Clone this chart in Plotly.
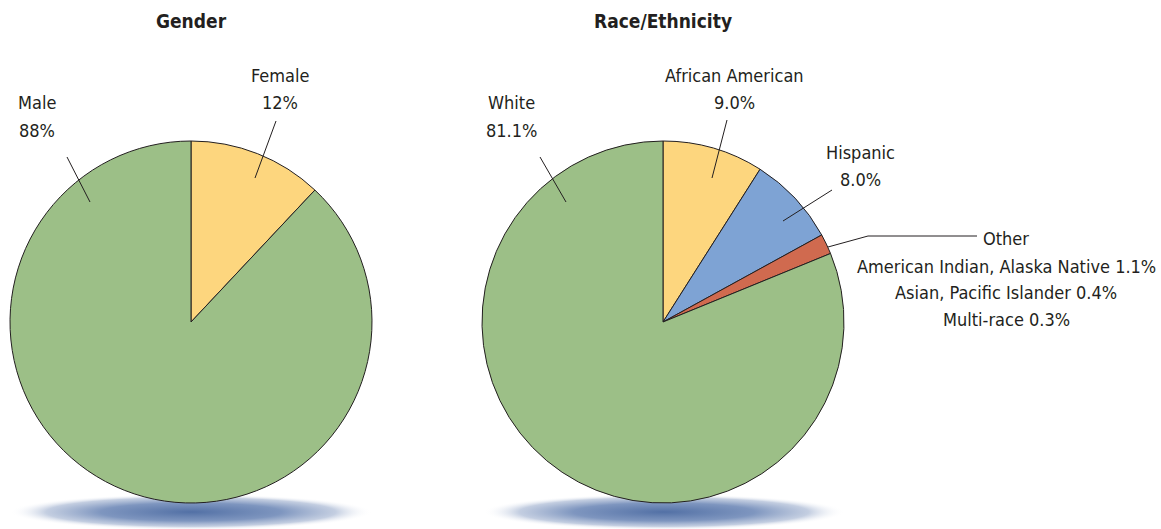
import numpy as np
import plotly.graph_objects as go

W, H = 1161, 529

gender_labels = ["Female", "Male"]
gender_values = [12, 88]
race_labels = ["African American", "Hispanic", "Other", "White"]
race_values = [9.0, 8.0, 1.8, 81.1]
other_detail = ["American Indian, Alaska Native 1.1%", "Asian, Pacific Islander 0.4%", "Multi-race 0.3%"]

colors_gender = ["#FDD67E", "#9CBF87"]
colors_race = ["#FDD67E", "#7EA3D4", "#D06A4F", "#9CBF87"]

FONT = "Liberation Sans Narrow, DejaVu Sans Condensed, Arial Narrow, sans-serif"


def px(x):
    return x / W


def py(y):
    return 1 - y / H


def dom(cx, cy, r):
    return dict(x=[px(cx - r), px(cx + r)], y=[py(cy + r), py(cy - r)])


fig = go.Figure()

# shadows under the pies (radial gradient ellipses in pixel coordinates)
t = np.linspace(0, 2 * np.pi, 161)
for cx in (191, 664):
    fig.add_trace(go.Scatter(x=cx + 181 * np.cos(t), y=512 + 18 * np.sin(t), mode="lines",
                             line=dict(width=0), fill="toself", hoverinfo="skip", showlegend=False,
                             fillgradient=dict(type="radial",
                                               colorscale=[[0, "rgba(82,112,165,1)"],
                                                           [0.5, "rgba(112,138,184,0.9)"],
                                                           [0.8, "rgba(170,185,212,0.7)"],
                                                           [1, "rgba(255,255,255,0)"]])))

fig.add_trace(go.Pie(labels=gender_labels, values=gender_values, sort=False, direction="clockwise",
                     rotation=0, textinfo="none", showlegend=False,
                     marker=dict(colors=colors_gender, line=dict(color="#231F20", width=1)),
                     domain=dom(191, 322, 181)))
fig.add_trace(go.Pie(labels=race_labels, values=race_values, sort=False, direction="clockwise",
                     rotation=0, textinfo="none", showlegend=False,
                     marker=dict(colors=colors_race, line=dict(color="#231F20", width=1)),
                     domain=dom(663, 322, 181)))

shapes = []
leaders = [
    ((67, 157), (90, 202)),
    ((276, 121), (255, 178)),
    ((540, 157), (566, 202)),
    ((727, 120), (712, 178)),
    ((832, 190), (783, 221)),
    ((828, 247), (868, 236)),
    ((868, 236), (977, 236)),
]
for (x0, y0), (x1, y1) in leaders:
    shapes.append(dict(type="line", xref="paper", yref="paper", x0=px(x0), y0=py(y0), x1=px(x1), y1=py(y1),
                       line=dict(color="#231F20", width=1)))

ann = []


def text(x, y, t, size=18, bold=False, anchor="center"):
    ann.append(dict(x=px(x), y=py(y), xref="paper", yref="paper", text=f"<b>{t}</b>" if bold else t,
                    showarrow=False, xanchor=anchor, yanchor="middle",
                    font=dict(family=FONT, size=size, color="#231F20")))


text(191, 21, "Gender", 19, True)
text(663, 21, "Race/Ethnicity", 19, True)
text(37, 102, "Male")
text(37, 130, f"{gender_values[1]}%")
text(280, 75, "Female")
text(280, 102, f"{gender_values[0]}%")
text(511, 102, "White")
text(511, 130, f"{race_values[3]:.1f}%")
text(734, 75, "African American")
text(734, 102, f"{race_values[0]:.1f}%")
text(860, 152, "Hispanic")
text(860, 180, f"{race_values[1]:.1f}%")
text(1006, 238, "Other")
for i, s in enumerate(other_detail):
    text(1006, 266 + 26.5 * i, s)

fig.update_layout(width=W, height=H, margin=dict(l=0, r=0, t=0, b=0), paper_bgcolor="white",
                  plot_bgcolor="white", shapes=shapes, annotations=ann,
                  xaxis=dict(range=[0, W], visible=False, fixedrange=True, domain=[0, 1]),
                  yaxis=dict(range=[H, 0], visible=False, fixedrange=True, domain=[0, 1]))
fig.write_html("out.html")
